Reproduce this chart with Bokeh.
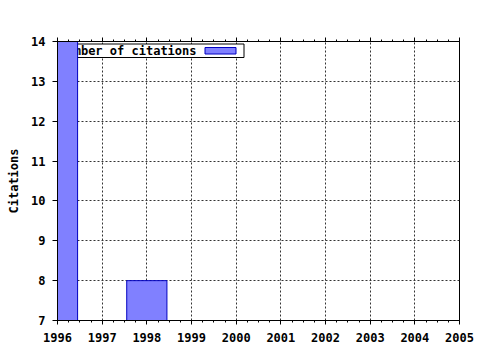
from bokeh.plotting import figure
from bokeh.models import Range1d, SingleIntervalTicker, LinearAxis, ColumnDataSource
from bokeh.core.properties import value
from bokeh.embed import file_html
from bokeh.resources import INLINE

years = [1996, 1998]
citations = [14, 8]
series_name = "Number of citations"
y_label = "Citations"

X0, X1 = 1996, 2005
Y0, Y1 = 7, 14
BAR_W = 0.9

FONT = "DejaVu Sans Mono"
FS = "12px"

L, R, T, B = 57, 21, 41, 30
W, H = 480, 350
FW, FH = W - L - R, H - T - B

p = figure(width=W, height=H, output_backend="svg", toolbar_location=None,
           x_range=Range1d(X0, X1), y_range=Range1d(Y0, Y1),
           min_border_left=L, min_border_right=R, min_border_top=T, min_border_bottom=B,
           frame_width=FW, frame_height=FH, x_axis_location=None, y_axis_location=None)
p.background_fill_color = "white"
p.border_fill_color = "white"
p.outline_line_color = "black"
p.outline_line_width = 1

def style_axis(ax, labels=True):
    ax.axis_line_color = "black"
    ax.major_tick_line_color = "black"
    ax.minor_tick_line_color = "black"
    ax.major_tick_out = 4
    ax.major_tick_in = 0
    ax.minor_tick_out = 2
    ax.minor_tick_in = 0
    ax.major_label_text_font = FONT
    ax.major_label_text_font_style = "bold"
    ax.major_label_text_font_size = FS
    ax.major_label_text_color = "black"
    ax.major_label_standoff = 4
    if not labels:
        ax.major_label_text_alpha = 0

xt = SingleIntervalTicker(interval=1, num_minor_ticks=4)
xb = LinearAxis(ticker=xt)
style_axis(xb)
xb.major_label_standoff = 8
p.add_layout(xb, "below")
xa = LinearAxis(ticker=SingleIntervalTicker(interval=1, num_minor_ticks=4))
style_axis(xa, labels=False)
xa.major_label_standoff = 0
p.add_layout(xa, "above")

yl = LinearAxis(ticker=SingleIntervalTicker(interval=1, num_minor_ticks=0))
style_axis(yl)
yl.major_tick_out = 5
yl.major_label_standoff = 7
yl.axis_label = y_label
yl.axis_label_text_font = FONT
yl.axis_label_text_font_style = "bold"
yl.axis_label_text_font_size = FS
yl.axis_label_text_color = "black"
yl.axis_label_standoff = 7
p.add_layout(yl, "left")

p.xgrid.ticker = xt
p.xgrid.grid_line_color = "#333333"
p.xgrid.grid_line_dash = "2 2"
p.ygrid.ticker = SingleIntervalTicker(interval=1)
p.ygrid.grid_line_color = "#333333"
p.ygrid.grid_line_dash = "2 2"
p.ygrid.grid_line_width = 1
p.xgrid.grid_line_width = 1

# legend (gnuplot style: text left, sample right), positioned in pixel terms
def dx(px):
    return X0 + (px - L) / FW * (X1 - X0)

def dy(py):
    return Y1 - (py - T) / FH * (Y1 - Y0)

p.quad(left=[dx(59)], right=[dx(243.5)], top=[dy(43.5)], bottom=[dy(57)],
       fill_color="white", line_color="black", line_width=1)
p.text(x=[dx(196)], y=[dy(50.5)], text=[series_name], text_align="right",
       text_baseline="middle", text_font=value(FONT), text_font_style="bold",
       text_font_size=FS, text_color="black")
p.quad(left=[dx(204.5)], right=[dx(235.5)], top=[dy(47)], bottom=[dy(53.5)],
       fill_color="#8080ff", line_color="#0000c0", line_width=1)

src = ColumnDataSource(dict(
    left=[y - BAR_W / 2 for y in years],
    right=[y + BAR_W / 2 for y in years],
    top=citations,
    bottom=[0] * len(years),
))
p.quad(left="left", right="right", top="top", bottom="bottom", source=src,
       fill_color="#8080ff", line_color="#0000c0", line_width=1)

open("out.html", "w").write(file_html(p, INLINE))
